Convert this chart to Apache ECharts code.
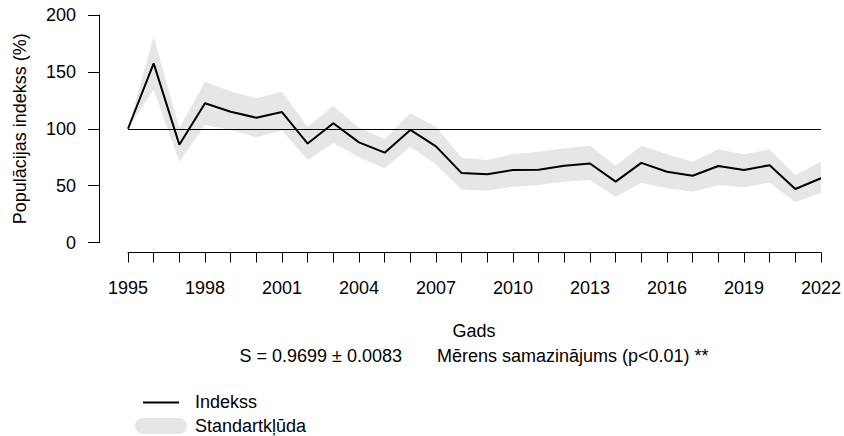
<!DOCTYPE html>
<html>
<head>
<meta charset="utf-8">
<script src="https://cdn.jsdelivr.net/npm/echarts@6/dist/echarts.min.js"></script>
<style>html,body{margin:0;padding:0;background:#fff;}#chart{width:844px;height:436px;}</style>
</head>
<body>
<div id="chart"></div>
<script>
const years = ['1995','1996','1997','1998','1999','2000','2001','2002','2003','2004','2005','2006','2007','2008','2009','2010','2011','2012','2013','2014','2015','2016','2017','2018','2019','2020','2021','2022'];
const indexValues = [100, 157.5, 86, 122.4, 115, 109.7, 114.7, 87, 104.8, 88, 79, 99, 84.5, 61, 60, 63.7, 64, 67.5, 69.5, 53.5, 70, 62.2, 58.7, 67.3, 63.7, 68, 47, 56.5];
const upperValues = [100, 181, 100.6, 141.4, 133, 126.8, 132.6, 101.8, 120, 101, 91, 113.6, 101.8, 74.5, 72.5, 77.8, 79.8, 82.8, 85.1, 67.5, 85.1, 77.8, 71, 81.9, 77.5, 81.9, 59.3, 70.9];
const lowerValues = [100, 134.5, 71, 103.3, 99, 92.5, 98.5, 72.5, 87.5, 75, 65.2, 84.2, 68.5, 46.5, 45.5, 49, 50.5, 53.5, 55, 40.3, 52.6, 47.6, 44.7, 50.5, 48.5, 52.6, 35.3, 43.8];
const yTicks = [0, 50, 100, 150, 200];
const baselineValue = 100;
const xTitle = 'Gads';
const yTitle = 'Populācijas indekss (%)';
const subTitle = 'S = 0.9699 ± 0.0083\u00a0\u00a0\u00a0\u00a0\u00a0\u00a0\u00a0Mērens samazinājums (p<0.01) **';
const legendNames = ['Indekss', 'Standartkļūda'];

const FONT = '"Liberation Sans", Arial, sans-serif';
const bandWidth = upperValues.map((u, i) => +(u - lowerValues[i]).toFixed(2));

const chart = echarts.init(document.getElementById('chart'), null, {renderer: 'svg'});
chart.setOption({
  animation: false,
  backgroundColor: '#fff',
  textStyle: {fontFamily: FONT},
  title: {
    text: xTitle,
    subtext: subTitle,
    left: 474,
    top: 322,
    textAlign: 'center',
    padding: 0,
    itemGap: 7,
    textStyle: {fontSize: 18, fontWeight: 'normal', color: '#000', fontFamily: FONT},
    subtextStyle: {fontSize: 18, color: '#000', fontFamily: FONT}
  },
  grid: {left: 128, right: 23, top: 15, bottom: 193.5, containLabel: false},
  xAxis: {
    type: 'category',
    data: years,
    boundaryGap: false,
    offset: 10,
    axisLine: {show: true, onZero: false, lineStyle: {color: '#000', width: 1}},
    axisTick: {show: true, interval: 0, length: 10, lineStyle: {color: '#000'}},
    axisLabel: {interval: 2, margin: 26, fontSize: 18, color: '#000', fontFamily: FONT},
    splitLine: {show: false}
  },
  yAxis: {
    type: 'value',
    min: yTicks[0],
    max: yTicks[yTicks.length - 1],
    interval: 50,
    offset: 29,
    name: yTitle,
    nameLocation: 'middle',
    nameGap: 70,
    nameTextStyle: {fontSize: 18, color: '#000', fontFamily: FONT},
    axisLine: {show: true, onZero: false, lineStyle: {color: '#000', width: 1}},
    axisTick: {show: true, length: 11, lineStyle: {color: '#000'}},
    axisLabel: {margin: 23, fontSize: 18, color: '#000', fontFamily: FONT},
    splitLine: {show: false}
  },
  series: [
    {
      name: 'lower',
      type: 'line',
      stack: 'band',
      data: lowerValues,
      symbol: 'none',
      lineStyle: {opacity: 0},
      silent: true
    },
    {
      name: legendNames[1],
      type: 'line',
      stack: 'band',
      data: bandWidth,
      symbol: 'none',
      lineStyle: {opacity: 0},
      areaStyle: {color: '#e6e6e6', opacity: 1},
      silent: true
    },
    {
      name: legendNames[0],
      type: 'line',
      data: indexValues,
      symbol: 'none',
      lineStyle: {color: '#000', width: 2},
      z: 5,
      markLine: {
        silent: true,
        symbol: 'none',
        label: {show: false},
        lineStyle: {color: '#000', width: 1, type: 'solid'},
        data: [{yAxis: baselineValue}]
      }
    }
  ],
  graphic: [
    {type: 'line', shape: {x1: 143, y1: 402.5, x2: 179, y2: 402.5}, style: {stroke: '#000', lineWidth: 2}},
    {type: 'rect', shape: {x: 135, y: 418, width: 52, height: 16, r: 8}, style: {fill: '#e6e6e6'}},
    {type: 'text', left: 195, top: 393, style: {text: legendNames[0], fontSize: 18, fill: '#000', fontFamily: FONT}},
    {type: 'text', left: 195, top: 417, style: {text: legendNames[1], fontSize: 18, fill: '#000', fontFamily: FONT}}
  ]
});
</script>
</body>
</html>
